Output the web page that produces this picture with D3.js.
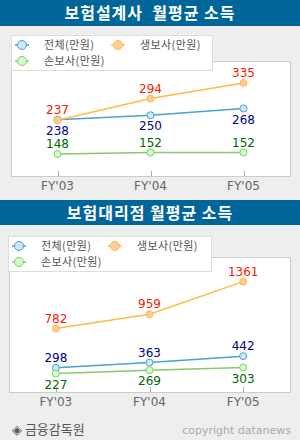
<!DOCTYPE html>
<html>
<head>
<meta charset="utf-8">
<script src="https://cdn.jsdelivr.net/npm/d3@7"></script>
<style>
  body { margin: 0; background: #eeeeee; }
  svg { display: block; }
</style>
</head>
<body>
<div id="chart"></div>
<script>
// data
const years = ["FY'03", "FY'04", "FY'05"];
const seriesNames = ["전체(만원)", "생보사(만원)", "손보사(만원)"];

// 보험설계사 월평균 소득
const planner_total = [238, 250, 268];
const planner_life = [237, 294, 335];
const planner_nonlife = [148, 152, 152];

// 보험대리점 월평균 소득
const agency_total = [298, 363, 442];
const agency_life = [782, 959, 1361];
const agency_nonlife = [227, 269, 303];

const titles = ["보험설계사  월평균 소득", "보험대리점 월평균 소득"];

// styles per series (전체, 생보사, 손보사)
const lineColor = ["#4a9fd4", "#ffbb44", "#8cc86a"];
const dotFill = ["#cfe6f6", "#ffcc99", "#ccffcc"];
const labelColor = ["#000088", "#ee2200", "#006600"];

const W = 300, H = 440;
const krFont = "'Noto Sans CJK KR', sans-serif";
const numFont = "'DejaVu Sans', sans-serif";

const svg = d3.select("#chart").append("svg")
    .attr("width", W)
    .attr("height", H);

svg.append("rect")
    .attr("width", W).attr("height", H)
    .attr("fill", "#eeeeee");

function drawPanel(p) {
    let g = svg.append("g");

    // title bar
    g.append("rect")
        .attr("x", 0).attr("y", p.barY)
        .attr("width", W).attr("height", p.barH)
        .attr("fill", "#006699");
    g.append("text")
        .attr("x", W / 2)
        .attr("y", p.barY + p.barH / 2 + 6)
        .attr("text-anchor", "middle")
        .attr("fill", "#fff")
        .attr("font-family", krFont)
        .attr("font-weight", "bold")
        .attr("font-size", 16)
        .attr("letter-spacing", 1)
        .style("white-space", "pre")
        .text(p.title);

    // plot box
    g.append("rect")
        .attr("x", p.box.x + 0.5).attr("y", p.box.y + 0.5)
        .attr("width", p.box.w).attr("height", p.box.h)
        .attr("fill", "#fff")
        .attr("stroke", "#cccccc");

    let x = d3.scalePoint()
        .domain(years)
        .range([p.box.x, p.box.x + p.box.w])
        .padding(0.5);

    let y = d3.scaleLinear()
        .domain(p.yDomain)
        .range([p.box.y + p.box.h, p.box.y]);

    // x ticks
    let bottom = p.box.y + p.box.h;
    g.selectAll(".tick")
        .data(years)
        .enter().append("line")
        .attr("x1", d => Math.round(x(d)) + 0.5)
        .attr("x2", d => Math.round(x(d)) + 0.5)
        .attr("y1", bottom - 5)
        .attr("y2", bottom)
        .attr("stroke", "#aaaaaa");
    g.selectAll(".xlab")
        .data(years)
        .enter().append("text")
        .attr("x", d => x(d))
        .attr("y", bottom + 10)
        .attr("dy", "0.35em")
        .attr("text-anchor", "middle")
        .attr("fill", "#666")
        .attr("font-family", numFont)
        .attr("font-size", 12)
        .text(d => d);

    let line = d3.line()
        .x((d, i) => x(years[i]))
        .y(d => y(d));

    p.series.forEach(function(vals, s) {
        g.append("path")
            .datum(vals)
            .attr("d", line)
            .attr("fill", "none")
            .attr("stroke", lineColor[s])
            .attr("stroke-width", 1.5);

        g.selectAll(".dot" + s)
            .data(vals)
            .enter().append("circle")
            .attr("cx", (d, i) => x(years[i]))
            .attr("cy", d => y(d))
            .attr("r", 3.5)
            .attr("fill", dotFill[s])
            .attr("stroke", lineColor[s])
            .attr("stroke-width", 1);

        // value labels, above or below the point
        let off = p.labelPos[s] === "above" ? -10 : 11;
        g.selectAll(".val" + s)
            .data(vals)
            .enter().append("text")
            .attr("x", (d, i) => x(years[i]))
            .attr("y", d => y(d) + off)
            .attr("dy", "0.35em")
            .attr("text-anchor", "middle")
            .attr("fill", labelColor[s])
            .attr("font-family", numFont)
            .attr("font-size", 12)
            .text(d => d);
    });

    // legend
    let lg = g.append("g");
    lg.append("rect")
        .attr("x", p.legend.x + 0.5).attr("y", p.legend.y + 0.5)
        .attr("width", p.legend.w).attr("height", p.legend.h)
        .attr("fill", "#fff")
        .attr("stroke", "#dddddd");
    let slots = [
        {mx: p.legend.x + 11, row: 0},
        {mx: p.legend.x + 107, row: 0},
        {mx: p.legend.x + 11, row: 1}
    ];
    seriesNames.forEach(function(name, s) {
        let cy = p.legend.y + 10 + slots[s].row * 16;
        let mx = slots[s].mx;
        lg.append("line")
            .attr("x1", mx - 7).attr("x2", mx + 7)
            .attr("y1", cy).attr("y2", cy)
            .attr("stroke", lineColor[s])
            .attr("stroke-width", 1.5);
        lg.append("circle")
            .attr("cx", mx).attr("cy", cy)
            .attr("r", 4.5)
            .attr("fill", dotFill[s])
            .attr("stroke", lineColor[s]);
        lg.append("text")
            .attr("x", mx + 22).attr("y", cy)
            .attr("dy", "0.36em")
            .attr("fill", "#555")
            .attr("font-family", krFont)
            .attr("font-size", 11)
            .attr("letter-spacing", 0.4)
            .text(name);
    });
}

drawPanel({
    title: titles[0],
    barY: 0, barH: 26,
    box: {x: 11, y: 61, w: 279, h: 115},
    legend: {x: 11, y: 35, w: 201, h: 35},
    yDomain: [90, 393],
    series: [planner_total, planner_life, planner_nonlife],
    labelPos: ["below", "above", "above"]
});

drawPanel({
    title: titles[1],
    barY: 200, barH: 25,
    box: {x: 9, y: 257, w: 281, h: 135},
    legend: {x: 8, y: 236, w: 203, h: 35},
    yDomain: [0, 1665],
    series: [agency_total, agency_life, agency_nonlife],
    labelPos: ["above", "above", "below"]
});

// footer
svg.append("text")
    .attr("x", 12).attr("y", 429)
    .attr("dy", "0.36em")
    .attr("fill", "#555")
    .attr("font-family", krFont)
    .attr("font-size", 13)
    .text("◈ 금융감독원");
svg.append("text")
    .attr("x", 291).attr("y", 430)
    .attr("dy", "0.35em")
    .attr("text-anchor", "end")
    .attr("fill", "#aaaaaa")
    .attr("font-family", numFont)
    .attr("font-size", 11)
    .text("copyright datanews");
</script>
</body>
</html>
